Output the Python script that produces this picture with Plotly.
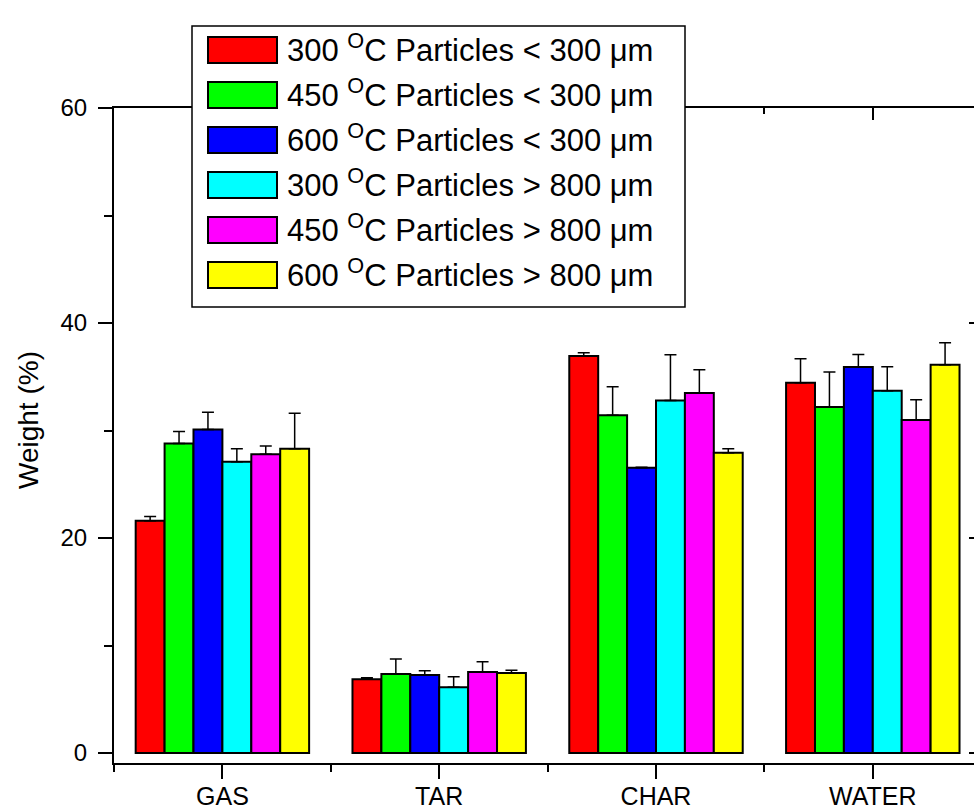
import plotly.graph_objects as go

categories = ["GAS", "TAR", "CHAR", "WATER"]
series_names = [
    "300 <sup>O</sup>C Particles &lt; 300 μm",
    "450 <sup>O</sup>C Particles &lt; 300 μm",
    "600 <sup>O</sup>C Particles &lt; 300 μm",
    "300 <sup>O</sup>C Particles &gt; 800 μm",
    "450 <sup>O</sup>C Particles &gt; 800 μm",
    "600 <sup>O</sup>C Particles &gt; 800 μm",
]
colors = ["#FF0000", "#00FF00", "#0000FF", "#00FFFF", "#FF00FF", "#FFFF00"]

s300_small = [21.6, 6.86, 36.93, 34.45]
s450_small = [28.8, 7.35, 31.41, 32.19]
s600_small = [30.1, 7.26, 26.54, 35.90]
s300_large = [27.1, 6.11, 32.78, 33.70]
s450_large = [27.8, 7.53, 33.49, 30.98]
s600_large = [28.3, 7.44, 27.94, 36.12]

e300_small = [0.4, 0.15, 0.3, 2.23]
e450_small = [1.1, 1.40, 2.66, 3.25]
e600_small = [1.6, 0.40, 0.05, 1.18]
e300_large = [1.2, 0.99, 4.27, 2.23]
e450_large = [0.75, 0.96, 2.17, 1.89]
e600_large = [3.3, 0.25, 0.37, 2.05]

values = [s300_small, s450_small, s600_small, s300_large, s450_large, s600_large]
errors = [e300_small, e450_small, e600_small, e300_large, e450_large, e600_large]

y_major = [0, 20, 40, 60]
y_minor = [10, 30, 50]

FONT = "Liberation Sans, Arial, sans-serif"
W, H = 974, 809
ML, MR, MT, MB = 114, 0, 108, 46
PW, PH = W - ML - MR, H - MT - MB

xpos = list(range(len(categories)))
xrange = [-0.5, -0.5 + PW / 216.8]
yrange = [-0.93, 60]

fig = go.Figure()
for name, col, vals, errs in zip(series_names, colors, values, errors):
    fig.add_trace(go.Bar(
        x=xpos, y=vals, name=name,
        marker=dict(color=col, line=dict(color="black", width=2)),
        error_y=dict(type="data", array=errs, arrayminus=[0] * len(errs),
                     symmetric=False, color="black", thickness=1.5, width=6),
        showlegend=False,
    ))

# invisible trace for mirrored axes
fig.add_trace(go.Scatter(x=[0], y=[0], xaxis="x2", yaxis="y2", mode="markers",
                         marker=dict(opacity=0), showlegend=False, hoverinfo="skip"))

minor_x = [p - 0.5 for p in xpos] + [xpos[-1] + 0.5]

fig.update_layout(
    width=W, height=H,
    margin=dict(l=ML, r=MR, t=MT, b=MB, pad=0),
    paper_bgcolor="white", plot_bgcolor="white",
    barmode="group", bargap=0.2, bargroupgap=0,
    font=dict(family=FONT, color="black"),
    xaxis=dict(
        range=xrange, tickmode="array", tickvals=xpos, ticktext=categories,
        showline=True, linecolor="black", linewidth=2, automargin=False,
        ticks="outside", ticklen=14, tickwidth=2, tickcolor="black",
        tickfont=dict(size=25, family=FONT), ticklabelstandoff=-4,
        showgrid=False, zeroline=False,
        minor=dict(tickmode="array", tickvals=minor_x, ticks="outside",
                   ticklen=7, tickwidth=2, tickcolor="black", showgrid=False),
    ),
    yaxis=dict(
        range=yrange, tickmode="array", tickvals=y_major,
        showline=True, linecolor="black", linewidth=2, automargin=False,
        ticks="outside", ticklen=14, tickwidth=2, tickcolor="black",
        tickfont=dict(size=24, family=FONT), ticklabelstandoff=6,
        showgrid=False, zeroline=False,
        minor=dict(tickmode="array", tickvals=y_minor, ticks="outside",
                   ticklen=8, tickwidth=2, tickcolor="black", showgrid=False),
    ),
    xaxis2=dict(
        overlaying="x", side="top", range=xrange, tickmode="array", tickvals=xpos,
        showticklabels=False, showline=True, linecolor="black", linewidth=2,
        ticks="inside", ticklen=12, tickwidth=2, tickcolor="black", automargin=False,
        showgrid=False, zeroline=False,
        minor=dict(tickmode="array", tickvals=minor_x, ticks="inside",
                   ticklen=6, tickwidth=2, tickcolor="black", showgrid=False),
    ),
    yaxis2=dict(
        overlaying="y", side="right", range=yrange, tickmode="array", tickvals=y_major,
        showticklabels=False, showline=True, linecolor="black", linewidth=2,
        ticks="inside", ticklen=5, tickwidth=2, tickcolor="black", automargin=False,
        showgrid=False, zeroline=False,
    ),
)

# y-axis title
fig.add_annotation(xref="paper", yref="paper", x=(28 - ML) / PW, y=(763 - 420) / PH,
                   text="Weight (%)", textangle=-90, showarrow=False,
                   font=dict(size=28, family=FONT), xanchor="center", yanchor="middle")

# manual legend
def px_x(px):
    return (px - ML) / PW

def px_y(py):
    return (MT + PH - py) / PH

fig.add_shape(type="rect", xref="paper", yref="paper",
              x0=px_x(192), x1=px_x(685), y0=px_y(307), y1=px_y(26),
              line=dict(color="black", width=1.5), fillcolor="white", layer="above")
for i, (name, col) in enumerate(zip(series_names, colors)):
    cy = 50 + 45 * i
    fig.add_shape(type="rect", xref="paper", yref="paper",
                  x0=px_x(208), x1=px_x(277), y0=px_y(cy + 13), y1=px_y(cy - 13),
                  line=dict(color="black", width=2), fillcolor=col, layer="above")
    fig.add_annotation(xref="paper", yref="paper", x=px_x(285), y=px_y(cy - 2),
                       text=name, showarrow=False, xanchor="left", yanchor="middle",
                       font=dict(size=31, family=FONT))

fig.write_html(
    "out.html",
    config={"displayModeBar": False},
    post_script="document.documentElement.style.margin='0';"
                "document.body.style.margin='0';"
                "document.body.style.overflow='hidden';",
)
